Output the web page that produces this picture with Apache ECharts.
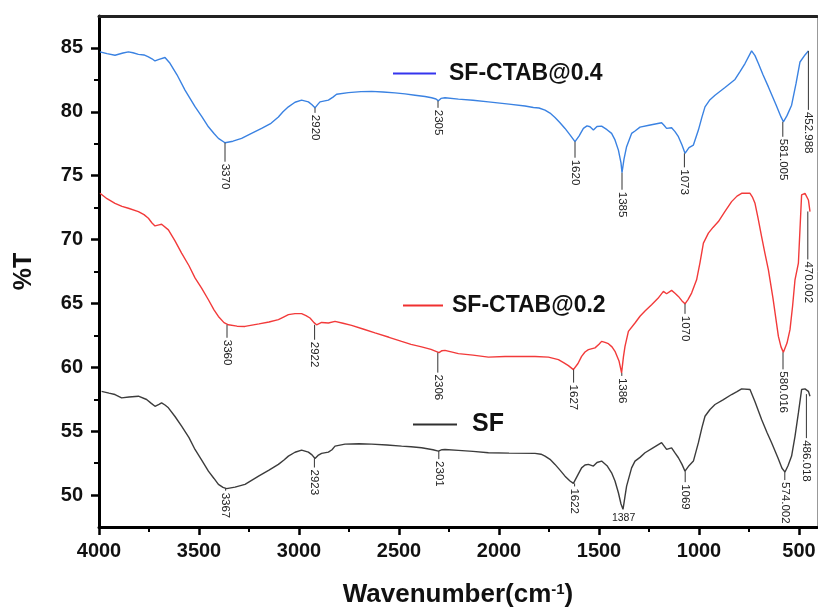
<!DOCTYPE html>
<html><head><meta charset="utf-8">
<script src="https://cdn.jsdelivr.net/npm/echarts@6/dist/echarts.min.js"></script>
<style>html,body{margin:0;padding:0;background:#fff}#c{width:818px;height:609px}</style>
</head><body><div id="c"></div>
<script>
// ---- data ----
const sfCtab04 = [[3995,84.69],[3960,84.55],[3920,84.43],[3880,84.6],[3853,84.69],[3830,84.62],[3803,84.5],[3775,84.45],[3753,84.3],[3735,84.15],[3720,83.98],[3700,84.1],[3670,84.25],[3645,83.8],[3610,82.9],[3570,81.7],[3520,80.4],[3485,79.6],[3453,78.83],[3425,78.3],[3403,77.92],[3370,77.58],[3330,77.7],[3287,77.92],[3240,78.3],[3187,78.7],[3140,79.1],[3103,79.6],[3080,80.0],[3053,80.39],[3020,80.75],[2987,80.91],[2953,80.78],[2935,80.55],[2920,80.31],[2905,80.6],[2895,80.78],[2853,80.91],[2830,81.15],[2812,81.38],[2753,81.5],[2690,81.58],[2637,81.6],[2580,81.55],[2520,81.48],[2470,81.4],[2420,81.3],[2370,81.2],[2337,81.1],[2315,81.0],[2303,80.86],[2290,81.05],[2270,81.1],[2203,80.99],[2130,80.9],[2053,80.78],[1950,80.6],[1870,80.45],[1828,80.34],[1800,80.3],[1770,80.13],[1745,79.9],[1720,79.56],[1695,79.15],[1670,78.7],[1645,78.2],[1620,77.66],[1600,78.1],[1578,78.7],[1560,78.9],[1545,78.83],[1528,78.57],[1510,78.85],[1487,78.88],[1460,78.6],[1437,78.31],[1420,77.8],[1403,77.0],[1390,76.0],[1385,75.23],[1375,76.3],[1362,77.27],[1337,78.31],[1320,78.5],[1295,78.8],[1250,78.95],[1187,79.14],[1175,78.95],[1162,78.7],[1137,78.75],[1120,78.45],[1103,78.05],[1085,77.4],[1070,76.75],[1050,77.2],[1028,77.4],[1003,78.57],[985,79.6],[970,80.39],[945,80.95],[920,81.3],[870,81.9],[820,82.53],[795,83.15],[770,83.78],[737,84.77],[720,84.4],[703,83.78],[680,82.9],[653,81.95],[615,80.55],[590,79.6],[578,79.22],[560,79.7],[537,80.52],[515,82.2],[495,83.9],[470,84.45],[453,84.77]];
const sfCtab02 = [[3995,73.62],[3960,73.2],[3920,72.84],[3885,72.6],[3853,72.45],[3803,72.19],[3775,71.95],[3753,71.67],[3735,71.3],[3720,71.07],[3700,71.15],[3687,71.2],[3653,70.76],[3620,69.9],[3587,68.94],[3550,67.95],[3520,67.0],[3487,66.2],[3453,65.29],[3425,64.5],[3403,63.98],[3375,63.5],[3353,63.33],[3310,63.22],[3270,63.2],[3200,63.4],[3150,63.55],[3103,63.73],[3075,63.95],[3053,64.12],[3020,64.2],[2987,64.2],[2965,64.05],[2945,63.86],[2925,63.5],[2912,63.33],[2887,63.51],[2853,63.47],[2820,63.6],[2780,63.45],[2737,63.28],[2680,63.0],[2620,62.69],[2550,62.35],[2487,62.03],[2440,61.8],[2387,61.6],[2340,61.4],[2300,61.15],[2285,61.3],[2270,61.33],[2203,61.07],[2130,60.95],[2053,60.8],[1970,60.85],[1887,60.86],[1820,60.85],[1753,60.8],[1703,60.6],[1675,60.35],[1653,60.13],[1628,59.82],[1605,60.3],[1587,60.86],[1570,61.2],[1553,61.38],[1520,61.52],[1500,61.8],[1487,62.03],[1470,61.95],[1453,61.85],[1435,61.6],[1420,61.25],[1400,60.5],[1387,59.56],[1378,60.8],[1370,61.64],[1353,62.81],[1320,63.47],[1295,64.0],[1270,64.4],[1237,64.9],[1205,65.4],[1178,65.94],[1162,65.76],[1137,66.02],[1120,65.8],[1103,65.55],[1085,65.2],[1070,64.97],[1055,65.3],[1037,65.81],[1012,66.85],[995,68.2],[978,69.72],[953,70.5],[930,70.95],[903,71.41],[870,72.2],[837,72.97],[810,73.4],[787,73.62],[745,73.62],[732,73.3],[720,72.84],[705,71.7],[687,70.23],[670,68.9],[653,67.63],[630,65.4],[603,62.42],[590,61.6],[578,61.17],[560,61.9],[545,62.95],[532,64.8],[520,66.85],[503,68.16],[487,73.5],[470,73.62],[460,73.5],[453,73.1],[445,72.19]];
const sf = [[3987,58.12],[3950,57.98],[3920,57.87],[3887,57.61],[3850,57.68],[3803,57.74],[3762,57.48],[3740,57.2],[3720,56.95],[3700,57.1],[3687,57.22],[3670,57.05],[3653,56.83],[3620,56.15],[3587,55.39],[3550,54.5],[3520,53.57],[3485,52.7],[3453,51.87],[3425,51.3],[3403,50.84],[3380,50.6],[3362,50.5],[3320,50.62],[3270,50.84],[3200,51.5],[3150,51.95],[3103,52.4],[3075,52.75],[3053,53.05],[3020,53.35],[2987,53.52],[2953,53.36],[2935,53.15],[2920,52.86],[2905,53.1],[2887,53.26],[2853,53.36],[2835,53.55],[2820,53.83],[2770,53.99],[2700,54.02],[2637,53.99],[2560,53.92],[2487,53.83],[2440,53.78],[2387,53.7],[2330,53.55],[2303,53.44],[2285,53.55],[2270,53.57],[2203,53.5],[2130,53.42],[2053,53.31],[1950,53.28],[1820,53.26],[1790,53.2],[1770,53.05],[1745,52.8],[1720,52.4],[1695,51.95],[1670,51.48],[1645,51.1],[1628,50.91],[1605,51.6],[1587,52.13],[1570,52.35],[1553,52.4],[1528,52.27],[1510,52.55],[1487,52.66],[1460,52.3],[1437,51.74],[1420,51.1],[1403,50.18],[1390,49.3],[1380,48.88],[1370,49.9],[1362,50.7],[1337,52.13],[1320,52.66],[1295,52.95],[1270,53.31],[1230,53.7],[1187,54.1],[1175,53.85],[1162,53.57],[1137,53.7],[1120,53.3],[1103,52.92],[1085,52.4],[1070,51.87],[1050,52.3],[1028,52.66],[1003,54.1],[985,55.3],[970,56.17],[945,56.7],[920,57.09],[880,57.45],[837,57.87],[810,58.1],[787,58.31],[745,58.26],[720,57.3],[687,55.92],[660,54.9],[637,54.1],[605,52.9],[585,52.1],[570,51.8],[555,52.3],[537,53.05],[520,54.6],[503,56.43],[487,58.26],[470,58.31],[453,58.12],[445,57.74]];

// peak annotations: [wavenumber, %T at tip, label]
const peaks04 = [[3370,77.58,'3370'],[2920,80.31,'2920'],[2305,80.86,'2305'],[1620,77.66,'1620'],[1385,75.23,'1385'],[1073,76.75,'1073'],[581,79.22,'581.005'],[453,84.77,'452.988']];
const peaks02 = [[3360,63.33,'3360'],[2922,63.33,'2922'],[2306,61.15,'2306'],[1627,59.82,'1627'],[1386,59.56,'1386'],[1070,64.97,'1070'],[580,61.17,'580.016'],[456,72.2,'470.002']];
const peaksSF = [[3367,50.5,'3367'],[2923,52.86,'2923'],[2301,53.44,'2301'],[1622,50.91,'1622'],[1387,48.88,'1387'],[1069,51.87,'1069'],[571,51.8,'574.002'],[463,57.9,'486.018']];

const xMajor = [500,1000,1500,2000,2500,3000,3500,4000];
const xMinor = [750,1250,1750,2250,2750,3250,3750];
const yMajor = [50,55,60,65,70,75,80,85];
const yMinor = [52.5,57.5,62.5,67.5,72.5,77.5,82.5];

// ---- styles (pixel leader lengths per annotation) ----
const lead04 = [19,5,7,16,17,14,15,59];
const lead02 = [13,15,20,13,3,10,17,48];
const leadSF = [2,9,8,3,-1,11,8,44];

const FONT = "'Liberation Sans', Arial, sans-serif";
const chart = echarts.init(document.getElementById('c'), null, {renderer:'canvas'});

function annSeries(name, peaks, leads){
  return {
    type:'custom', name:name, silent:true, z:5, clip:false,
    data: peaks.map(p=>[p[0],p[1]]),
    encode:{x:0,y:1},
    renderItem: function(params, api){
      const i = params.dataIndex;
      const pt = api.coord([api.value(0), api.value(1)]);
      const len = leads[i];
      const label = peaks[i][2];
      const children = [];
      if (len < 0) {
        children.push({type:'text', x:pt[0]+2, y:pt[1]+3,
          style:{text:label, fill:'#222', font:'10.5px '+FONT, align:'center', verticalAlign:'top'}});
      } else {
        if (len > 1) children.push({type:'line', shape:{x1:pt[0],y1:pt[1],x2:pt[0],y2:pt[1]+len},
          style:{stroke:'#333', lineWidth:1}});
        children.push({type:'text', x:pt[0], y:pt[1]+len+2, rotation:-Math.PI/2,
          style:{text:label, fill:'#222', font:'11.5px '+FONT, align:'left', verticalAlign:'middle'}});
      }
      return {type:'group', children:children};
    }
  };
}
const plain = v => String(v);

const option = {
  animation:false,
  backgroundColor:'#fff',
  grid:{left:99, right:1, top:16, bottom:82, containLabel:false, outerBoundsMode:'none'},
  legend:[
    {data:[{name:'SF-CTAB@0.4'}], left:393, top:62, padding:0, icon:'rect', itemWidth:43, itemHeight:2,
     itemStyle:{color:'#3535ee'}, selectedMode:false,
     textStyle:{fontSize:23, fontWeight:'bold', color:'#111', fontFamily:FONT, padding:[0,0,0,8]}},
    {data:[{name:'SF-CTAB@0.2'}], left:403, top:294, padding:0, icon:'rect', itemWidth:40, itemHeight:2,
     itemStyle:{color:'#f03030'}, selectedMode:false,
     textStyle:{fontSize:23, fontWeight:'bold', color:'#111', fontFamily:FONT, padding:[0,0,0,4]}},
    {data:[{name:'SF'}], left:413, top:412, padding:0, icon:'rect', itemWidth:44, itemHeight:2,
     itemStyle:{color:'#303030'}, selectedMode:false,
     textStyle:{fontSize:25, fontWeight:'bold', color:'#111', fontFamily:FONT, padding:[0,0,0,10]}}
  ],
  xAxis:[
    {type:'value', min:410, max:4000, inverse:true, position:'bottom',
     axisLine:{show:true, onZero:false, lineStyle:{color:'#000', width:3}},
     axisTick:{show:true, length:8, customValues:xMajor, lineStyle:{color:'#000', width:2.5}},
     axisLabel:{show:true, customValues:xMajor, formatter:plain, fontSize:20, fontWeight:'bold', color:'#111', fontFamily:FONT, margin:14},
     splitLine:{show:false},
     name:'Wavenumber(cm{s|-1})', nameLocation:'middle', nameGap:55,
     nameTextStyle:{fontSize:26, fontWeight:'bold', color:'#111', fontFamily:FONT,
       rich:{s:{fontSize:15, fontWeight:'bold', color:'#111', fontFamily:FONT, verticalAlign:'top', padding:[0,0,10,0]}}}},
    {type:'value', min:410, max:4000, inverse:true, position:'bottom',
     axisLine:{show:false}, axisTick:{show:true, length:5, customValues:xMinor, lineStyle:{color:'#000', width:2}},
     axisLabel:{show:false}, splitLine:{show:false}},
    {type:'value', min:410, max:4000, inverse:true, position:'top',
     axisLine:{show:true, onZero:false, lineStyle:{color:'#222', width:3}},
     axisTick:{show:false}, axisLabel:{show:false}, splitLine:{show:false}}
  ],
  yAxis:[
    {type:'value', min:47.5, max:87.5, position:'left',
     axisLine:{show:true, onZero:false, lineStyle:{color:'#000', width:3}},
     axisTick:{show:true, length:8, customValues:yMajor, lineStyle:{color:'#000', width:2.5}},
     axisLabel:{show:true, customValues:yMajor, formatter:plain, fontSize:20, fontWeight:'bold', color:'#111', fontFamily:FONT, margin:16},
     splitLine:{show:false},
     name:'%T', nameLocation:'middle', nameGap:62,
     nameTextStyle:{fontSize:25, fontWeight:'bold', color:'#111', fontFamily:FONT}},
    {type:'value', min:47.5, max:87.5, position:'left',
     axisLine:{show:false}, axisTick:{show:true, length:5, customValues:yMinor, lineStyle:{color:'#000', width:2}},
     axisLabel:{show:false}, splitLine:{show:false}},
    {type:'value', min:47.5, max:87.5, position:'right',
     axisLine:{show:true, onZero:false, lineStyle:{color:'#999', width:1}},
     axisTick:{show:false}, axisLabel:{show:false}, splitLine:{show:false}}
  ],
  series:[
    {type:'line', name:'SF-CTAB@0.4', data:sfCtab04, showSymbol:false, symbol:'none', smooth:false,
     lineStyle:{color:'#3a82e2', width:1.4}, itemStyle:{color:'#3535ee'}, z:3},
    {type:'line', name:'SF-CTAB@0.2', data:sfCtab02, showSymbol:false, symbol:'none', smooth:false,
     lineStyle:{color:'#f23a3a', width:1.4}, itemStyle:{color:'#f03030'}, z:3},
    {type:'line', name:'SF', data:sf, showSymbol:false, symbol:'none', smooth:false,
     lineStyle:{color:'#3c3c3c', width:1.4}, itemStyle:{color:'#303030'}, z:3},
    annSeries('a04', peaks04, lead04),
    annSeries('a02', peaks02, lead02),
    annSeries('aSF', peaksSF, leadSF)
  ]
};
chart.setOption(option);
</script></body></html>
